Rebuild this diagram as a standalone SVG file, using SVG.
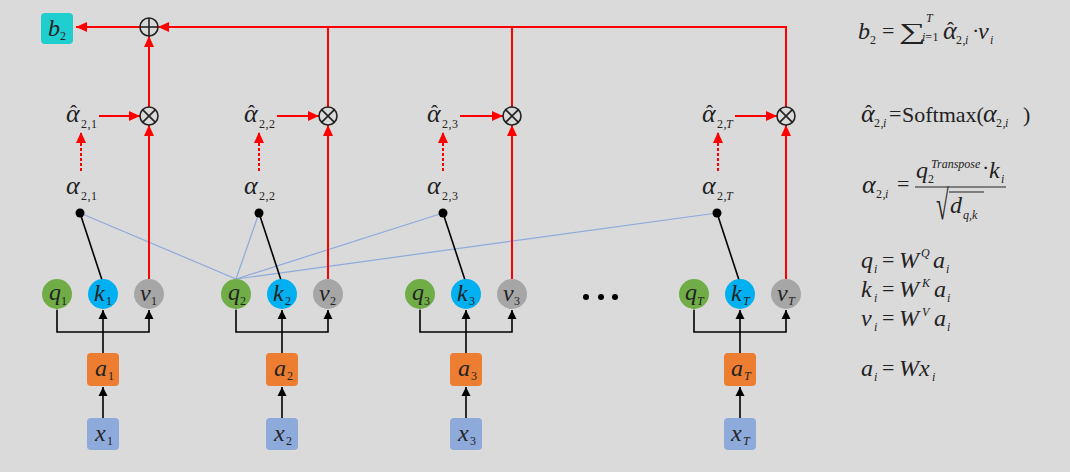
<svg xmlns="http://www.w3.org/2000/svg" width="1070" height="472" viewBox="0 0 1070 472">
<defs>
<marker id="ar" markerUnits="userSpaceOnUse" markerWidth="12" markerHeight="10" refX="11" refY="5" orient="auto"><path d="M0,0 L11,5 L0,10 Z" fill="#ff0000"/></marker>
<marker id="ab" markerUnits="userSpaceOnUse" markerWidth="10" markerHeight="10" refX="9" refY="5" orient="auto"><path d="M0,0.5 L9,5 L0,9.5 Z" fill="#000"/></marker>
</defs>
<style>
.m{font-family:"Liberation Serif","Times New Roman",serif;font-style:italic;font-size:24px;fill:#222}
.g{font-family:"Liberation Serif","Times New Roman",serif;font-style:italic;font-size:26px;fill:#222}
.u{font-family:"Liberation Serif","Times New Roman",serif;font-style:normal;font-size:22px;fill:#222}
.s{font-family:"Liberation Serif","Times New Roman",serif;font-style:normal;font-size:12px;fill:#222;letter-spacing:0.5px}
.si{font-family:"Liberation Serif","Times New Roman",serif;font-style:italic;font-size:12px;fill:#222}
.h{font-style:normal;font-size:21px}
.ss{font-style:normal;font-size:12px;letter-spacing:0.5px}
.sit{font-style:italic;font-size:12px}
.red{stroke:#ff0000;stroke-width:2;fill:none}
.redd{stroke:#ff0000;stroke-width:2;fill:none;stroke-dasharray:3 2}
.blk{stroke:#000;stroke-width:1.6;fill:none}
.blu{stroke:#8eaadb;stroke-width:1.2;fill:none}
.q{fill:#70ad47}.k{fill:#00b0f0}.v{fill:#a6a6a6}.a{fill:#ed7d31}.x{fill:#8eaadb}
.op{stroke:#222;stroke-width:1.6;fill:none}
</style>
<rect width="1070" height="472" fill="#dadada"/>

<g id="connectors">
<line class="blu" x1="236" y1="279" x2="80" y2="213"/>
<line class="blu" x1="236" y1="279" x2="259" y2="213"/>
<line class="blu" x1="236" y1="279" x2="443" y2="213"/>
<line class="blu" x1="236" y1="279" x2="717" y2="213"/>
<line class="blk" x1="80" y1="213" x2="102" y2="280"/>
<line class="blk" x1="259" y1="213" x2="281" y2="280"/>
<line class="blk" x1="443" y1="213" x2="465" y2="280"/>
<line class="blk" x1="717" y1="213" x2="739" y2="280"/>
<g class="blk">
<line x1="103" y1="418" x2="103" y2="387" marker-end="url(#ab)"/>
<line x1="103" y1="353" x2="103" y2="310" marker-end="url(#ab)"/>
<polyline points="57,310 57,332 149,332 149,310" marker-start="url(#ab)" marker-end="url(#ab)"/>
<line x1="282" y1="418" x2="282" y2="387" marker-end="url(#ab)"/>
<line x1="282" y1="353" x2="282" y2="310" marker-end="url(#ab)"/>
<polyline points="236,310 236,332 328,332 328,310" marker-start="url(#ab)" marker-end="url(#ab)"/>
<line x1="466" y1="418" x2="466" y2="387" marker-end="url(#ab)"/>
<line x1="466" y1="353" x2="466" y2="310" marker-end="url(#ab)"/>
<polyline points="420,310 420,332 512,332 512,310" marker-start="url(#ab)" marker-end="url(#ab)"/>
<line x1="740" y1="418" x2="740" y2="387" marker-end="url(#ab)"/>
<line x1="740" y1="353" x2="740" y2="310" marker-end="url(#ab)"/>
<polyline points="694,310 694,332 786,332 786,310" marker-start="url(#ab)" marker-end="url(#ab)"/>
</g>
<line class="red" x1="149" y1="279" x2="149" y2="125" marker-end="url(#ar)"/>
<line class="red" x1="328" y1="279" x2="328" y2="125" marker-end="url(#ar)"/>
<line class="red" x1="512" y1="279" x2="512" y2="125" marker-end="url(#ar)"/>
<line class="red" x1="786" y1="279" x2="786" y2="125" marker-end="url(#ar)"/>
<line class="red" x1="99" y1="116" x2="140" y2="116" marker-end="url(#ar)"/>
<line class="red" x1="277" y1="116" x2="319" y2="116" marker-end="url(#ar)"/>
<line class="red" x1="460" y1="116" x2="503" y2="116" marker-end="url(#ar)"/>
<line class="red" x1="735" y1="116" x2="777" y2="116" marker-end="url(#ar)"/>
<line class="redd" x1="81" y1="171" x2="81" y2="132" marker-end="url(#ar)"/>
<line class="redd" x1="259" y1="171" x2="259" y2="132" marker-end="url(#ar)"/>
<line class="redd" x1="443" y1="171" x2="443" y2="132" marker-end="url(#ar)"/>
<line class="redd" x1="718" y1="171" x2="718" y2="132" marker-end="url(#ar)"/>
<line class="red" x1="149" y1="107" x2="149" y2="36" marker-end="url(#ar)"/>
<polyline class="red" points="328,107 328,27"/>
<polyline class="red" points="512,107 512,27"/>
<polyline class="red" points="786,107 786,27 158,27" marker-end="url(#ar)"/>
<line class="red" x1="140" y1="27" x2="76" y2="27" marker-end="url(#ar)"/>
</g>

<g id="b2"><rect x="41" y="13" width="32" height="31" rx="4" fill="#1fcfcf"/><text class="m" x="48" y="36">b<tspan class="ss" x="60" y="40" font-size="10">2</tspan></text></g>
<g id="oplus"><circle class="op" cx="149" cy="27" r="9"/><line class="op" x1="140" y1="27" x2="158" y2="27"/><line class="op" x1="149" y1="18" x2="149" y2="36"/></g>

<g id="otimes1"><circle class="op" cx="149" cy="116" r="9"/><path class="op" d="M142.6,109.6 L155.4,122.4 M155.4,109.6 L142.6,122.4"/></g>
<g id="otimes2"><circle class="op" cx="328" cy="116" r="9"/><path class="op" d="M321.6,109.6 L334.4,122.4 M334.4,109.6 L321.6,122.4"/></g>
<g id="otimes3"><circle class="op" cx="512" cy="116" r="9"/><path class="op" d="M505.6,109.6 L518.4,122.4 M518.4,109.6 L505.6,122.4"/></g>
<g id="otimesT"><circle class="op" cx="786" cy="116" r="9"/><path class="op" d="M779.6,109.6 L792.4,122.4 M792.4,109.6 L779.6,122.4"/></g>

<g id="ahat1"><text class="g" x="66" y="122">α<tspan class="h" x="70" y="120">ˆ</tspan><tspan class="ss" x="81" y="128">2,1</tspan></text></g>
<g id="ahat2"><text class="g" x="244" y="122">α<tspan class="h" x="248" y="120">ˆ</tspan><tspan class="ss" x="259" y="128">2,2</tspan></text></g>
<g id="ahat3"><text class="g" x="427" y="122">α<tspan class="h" x="431" y="120">ˆ</tspan><tspan class="ss" x="442" y="128">2,3</tspan></text></g>
<g id="ahatT"><text class="g" x="702" y="122">α<tspan class="h" x="706" y="120">ˆ</tspan><tspan class="ss" x="717" y="128">2,</tspan><tspan class="sit" x="726" y="128">T</tspan></text></g>

<g id="alpha1"><text class="g" x="66" y="194">α<tspan class="ss" x="81" y="200">2,1</tspan></text><circle cx="80" cy="213" r="4.5" fill="#000"/></g>
<g id="alpha2"><text class="g" x="244" y="194">α<tspan class="ss" x="259" y="200">2,2</tspan></text><circle cx="259" cy="213" r="4.5" fill="#000"/></g>
<g id="alpha3"><text class="g" x="427" y="194">α<tspan class="ss" x="442" y="200">2,3</tspan></text><circle cx="443" cy="213" r="4.5" fill="#000"/></g>
<g id="alphaT"><text class="g" x="702" y="194">α<tspan class="ss" x="717" y="200">2,</tspan><tspan class="sit" x="726" y="200">T</tspan></text><circle cx="717" cy="213" r="4.5" fill="#000"/></g>

<g id="q1"><circle class="q" cx="57" cy="294" r="15"/><text class="m" x="49" y="300">q<tspan class="ss" x="61" y="305" font-size="10">1</tspan></text></g>
<g id="k1"><circle class="k" cx="103" cy="294" r="15"/><text class="m" x="94" y="301">k<tspan class="ss" x="106" y="305" font-size="10">1</tspan></text></g>
<g id="v1"><circle class="v" cx="149" cy="294" r="15"/><text class="m" x="140" y="301">v<tspan class="ss" x="151" y="305" font-size="10">1</tspan></text></g>
<g id="a1"><rect class="a" x="87" y="353" width="32" height="33" rx="4"/><text class="m" x="95" y="376">a<tspan class="ss" x="108" y="380" font-size="10">1</tspan></text></g>
<g id="x1"><rect class="x" x="87" y="418" width="32" height="32" rx="4"/><text class="m" x="95" y="441">x<tspan class="ss" x="107" y="445" font-size="10">1</tspan></text></g>

<g id="q2"><circle class="q" cx="236" cy="294" r="15"/><text class="m" x="228" y="300">q<tspan class="ss" x="240" y="305" font-size="10">2</tspan></text></g>
<g id="k2"><circle class="k" cx="282" cy="294" r="15"/><text class="m" x="273" y="301">k<tspan class="ss" x="285" y="305" font-size="10">2</tspan></text></g>
<g id="v2"><circle class="v" cx="328" cy="294" r="15"/><text class="m" x="319" y="301">v<tspan class="ss" x="330" y="305" font-size="10">2</tspan></text></g>
<g id="a2"><rect class="a" x="266" y="353" width="32" height="33" rx="4"/><text class="m" x="274" y="376">a<tspan class="ss" x="287" y="380" font-size="10">2</tspan></text></g>
<g id="x2"><rect class="x" x="266" y="418" width="32" height="32" rx="4"/><text class="m" x="274" y="441">x<tspan class="ss" x="286" y="445" font-size="10">2</tspan></text></g>

<g id="q3"><circle class="q" cx="420" cy="294" r="15"/><text class="m" x="412" y="300">q<tspan class="ss" x="424" y="305" font-size="10">3</tspan></text></g>
<g id="k3"><circle class="k" cx="466" cy="294" r="15"/><text class="m" x="457" y="301">k<tspan class="ss" x="469" y="305" font-size="10">3</tspan></text></g>
<g id="v3"><circle class="v" cx="512" cy="294" r="15"/><text class="m" x="503" y="301">v<tspan class="ss" x="514" y="305" font-size="10">3</tspan></text></g>
<g id="a3"><rect class="a" x="450" y="353" width="32" height="33" rx="4"/><text class="m" x="458" y="376">a<tspan class="ss" x="471" y="380" font-size="10">3</tspan></text></g>
<g id="x3"><rect class="x" x="450" y="418" width="32" height="32" rx="4"/><text class="m" x="458" y="441">x<tspan class="ss" x="470" y="445" font-size="10">3</tspan></text></g>

<g id="ellipsis"><circle cx="586" cy="297" r="3" fill="#000"/><circle cx="601" cy="297" r="3" fill="#000"/><circle cx="615" cy="297" r="3" fill="#000"/></g>

<g id="qT"><circle class="q" cx="694" cy="294" r="15"/><text class="m" x="685" y="300">q<tspan class="sit" x="697" y="305" font-size="10">T</tspan></text></g>
<g id="kT"><circle class="k" cx="740" cy="294" r="15"/><text class="m" x="731" y="301">k<tspan class="sit" x="743" y="305" font-size="10">T</tspan></text></g>
<g id="vT"><circle class="v" cx="786" cy="294" r="15"/><text class="m" x="777" y="301">v<tspan class="sit" x="788" y="305" font-size="10">T</tspan></text></g>
<g id="aT"><rect class="a" x="724" y="353" width="32" height="33" rx="4"/><text class="m" x="731" y="376">a<tspan class="sit" x="744" y="380" font-size="10">T</tspan></text></g>
<g id="xT"><rect class="x" x="724" y="418" width="32" height="32" rx="4"/><text class="m" x="731" y="441">x<tspan class="sit" x="743" y="445" font-size="10">T</tspan></text></g>

<g id="formula-b">
<text class="m" x="858" y="39" font-size="23">b<tspan class="ss" x="870" y="44" font-size="11">2</tspan></text>
<text class="u" x="882" y="38">=</text>
<text class="u" transform="translate(899,39) scale(1.7,1.05)" font-size="26">∑</text>
<text class="si" x="926" y="22" font-size="8">T</text>
<text class="si" x="922" y="41" font-size="9">i<tspan class="ss" font-size="9" letter-spacing="0">=1</tspan></text>
<text class="g" x="943" y="39" font-size="24">α<tspan class="h" x="947" y="37" font-size="19">ˆ</tspan><tspan class="ss" x="956" y="44" font-size="11">2,</tspan><tspan class="sit" x="965" y="44" font-size="11">i</tspan></text>
<text class="u" x="972" y="38">·</text>
<text class="m" x="978" y="39" font-size="23">v<tspan class="sit" x="990" y="44" font-size="10">i</tspan></text>
</g>
<g id="formula-softmax">
<text class="g" x="861" y="122" font-size="24">α<tspan class="h" x="865" y="120" font-size="19">ˆ</tspan><tspan class="ss" x="874" y="127" font-size="11">2,</tspan><tspan class="sit" x="883" y="127" font-size="11">i</tspan></text>
<text class="u" x="889" y="121">=</text>
<text class="u" x="902" y="122" font-size="21">Softmax(</text>
<text class="g" x="983" y="122" font-size="24">α<tspan class="ss" x="996" y="127" font-size="11">2,</tspan><tspan class="sit" x="1005" y="127" font-size="11">i</tspan></text>
<text class="u" x="1023" y="122" font-size="21">)</text>
</g>
<g id="formula-alpha">
<text class="g" x="862" y="193" font-size="24">α<tspan class="ss" x="876" y="198" font-size="11">2,</tspan><tspan class="sit" x="885" y="198" font-size="11">i</tspan></text>
<text class="u" x="897" y="191">=</text>
<text class="m" x="916" y="178">q<tspan class="ss" x="928" y="183" font-size="11">2</tspan></text>
<text class="si" x="931" y="168" font-size="8">Transpose</text>
<text class="u" x="982" y="175">·</text>
<text class="m" x="989" y="178">k<tspan class="sit" x="1001" y="183" font-size="10">i</tspan></text>
<line x1="915" y1="187" x2="1006" y2="187" stroke="#222" stroke-width="1"/>
<text class="u" transform="translate(936,219) scale(1.05,1.9)" font-size="24">√</text>
<line x1="949" y1="192" x2="984" y2="192" stroke="#222" stroke-width="1"/>
<text class="m" x="950" y="213">d<tspan class="sit" x="963" y="219" font-size="9">q,k</tspan></text>
</g>
<g id="formula-qkv">
<text class="m" x="861" y="268">q<tspan class="sit" x="874" y="273" font-size="10">i</tspan></text>
<text class="u" x="882" y="267">=</text>
<text class="m" x="899" y="268">W<tspan class="sit" x="921" y="257" font-size="10">Q</tspan><tspan x="933" y="268">a</tspan><tspan class="sit" x="946" y="273" font-size="10">i</tspan></text>
<text class="m" x="861" y="297">k<tspan class="sit" x="874" y="302" font-size="10">i</tspan></text>
<text class="u" x="882" y="296">=</text>
<text class="m" x="899" y="297">W<tspan class="sit" x="922" y="287" font-size="10">K</tspan><tspan x="934" y="297">a</tspan><tspan class="sit" x="947" y="302" font-size="10">i</tspan></text>
<text class="m" x="861" y="326">v<tspan class="sit" x="874" y="331" font-size="10">i</tspan></text>
<text class="u" x="882" y="325">=</text>
<text class="m" x="899" y="326">W<tspan class="sit" x="922" y="316" font-size="10">V</tspan><tspan x="934" y="326">a</tspan><tspan class="sit" x="947" y="331" font-size="10">i</tspan></text>
</g>
<g id="formula-a">
<text class="m" x="861" y="376">a<tspan class="sit" x="874" y="381" font-size="10">i</tspan></text>
<text class="u" x="882" y="375">=</text>
<text class="m" x="899" y="376">Wx<tspan class="sit" x="932" y="381" font-size="10">i</tspan></text>
</g>
</svg>
